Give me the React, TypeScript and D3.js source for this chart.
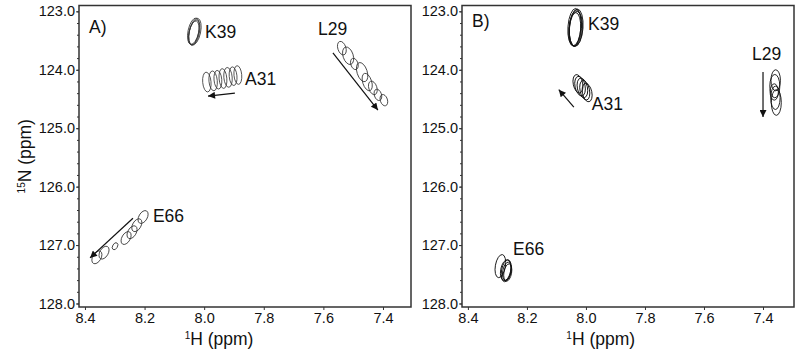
import { useEffect, useRef } from "react";
import * as d3 from "d3";

// tick values (ppm)
const ticksH = [8.4, 8.2, 8.0, 7.8, 7.6, 7.4];
const ticksN = [123, 124, 125, 126, 127, 128];
const minorN = d3.range(123, 128.01, 0.2);

// peaks: residue, 1H shift, 15N shift, half-widths in ppm
const peaksA = [
  { res: "K39", h: 8.036, n: 123.34, wh: 0.018, wn: 0.23 },
  { res: "K39", h: 8.033, n: 123.36, wh: 0.017, wn: 0.22 },
  { res: "K39", h: 8.031, n: 123.35, wh: 0.019, wn: 0.235 },
  { res: "K39", h: 8.035, n: 123.37, wh: 0.016, wn: 0.21 },
  { res: "A31", h: 7.991, n: 124.21, wh: 0.014, wn: 0.17 },
  { res: "A31", h: 7.970, n: 124.19, wh: 0.014, wn: 0.17 },
  { res: "A31", h: 7.954, n: 124.17, wh: 0.013, wn: 0.16 },
  { res: "A31", h: 7.937, n: 124.15, wh: 0.013, wn: 0.17 },
  { res: "A31", h: 7.920, n: 124.13, wh: 0.014, wn: 0.17 },
  { res: "A31", h: 7.903, n: 124.11, wh: 0.013, wn: 0.16 },
  { res: "A31", h: 7.887, n: 124.09, wh: 0.013, wn: 0.16 },
  { res: "L29", h: 7.538, n: 123.63, wh: 0.0135, wn: 0.12 },
  { res: "L29", h: 7.517, n: 123.76, wh: 0.017, wn: 0.155 },
  { res: "L29", h: 7.496, n: 123.90, wh: 0.012, wn: 0.10 },
  { res: "L29", h: 7.470, n: 124.04, wh: 0.017, wn: 0.17 },
  { res: "L29", h: 7.453, n: 124.21, wh: 0.015, wn: 0.155 },
  { res: "L29", h: 7.434, n: 124.31, wh: 0.0135, wn: 0.12 },
  { res: "L29", h: 7.417, n: 124.43, wh: 0.012, wn: 0.10 },
  { res: "L29", h: 7.397, n: 124.52, wh: 0.012, wn: 0.10 },
  { res: "E66", h: 8.360, n: 127.21, wh: 0.014, wn: 0.12 },
  { res: "E66", h: 8.336, n: 127.13, wh: 0.014, wn: 0.12 },
  { res: "E66", h: 8.299, n: 127.02, wh: 0.008, wn: 0.065 },
  { res: "E66", h: 8.262, n: 126.88, wh: 0.014, wn: 0.12 },
  { res: "E66", h: 8.242, n: 126.78, wh: 0.014, wn: 0.12 },
  { res: "E66", h: 8.226, n: 126.66, wh: 0.014, wn: 0.12 },
  { res: "E66", h: 8.205, n: 126.52, wh: 0.014, wn: 0.12 },
];

const peaksB = [
  { res: "K39", h: 8.039, n: 123.27, wh: 0.022, wn: 0.32 },
  { res: "K39", h: 8.036, n: 123.29, wh: 0.021, wn: 0.31 },
  { res: "K39", h: 8.034, n: 123.30, wh: 0.022, wn: 0.30 },
  { res: "K39", h: 8.038, n: 123.31, wh: 0.020, wn: 0.29 },
  { res: "K39", h: 8.033, n: 123.28, wh: 0.023, wn: 0.32 },
  { res: "A31", h: 8.027, n: 124.24, wh: 0.016, wn: 0.16 },
  { res: "A31", h: 8.020, n: 124.28, wh: 0.017, wn: 0.17 },
  { res: "A31", h: 8.012, n: 124.31, wh: 0.017, wn: 0.17 },
  { res: "A31", h: 8.004, n: 124.35, wh: 0.016, wn: 0.17 },
  { res: "A31", h: 7.996, n: 124.39, wh: 0.016, wn: 0.16 },
  { res: "L29", h: 7.357, n: 124.18, wh: 0.016, wn: 0.18 },
  { res: "L29", h: 7.360, n: 124.28, wh: 0.017, wn: 0.20 },
  { res: "L29", h: 7.362, n: 124.38, wh: 0.014, wn: 0.14 },
  { res: "L29", h: 7.358, n: 124.48, wh: 0.016, wn: 0.20 },
  { res: "L29", h: 7.355, n: 124.56, wh: 0.017, wn: 0.22 },
  { res: "E66", h: 8.290, n: 127.36, wh: 0.017, wn: 0.20 },
  { res: "E66", h: 8.272, n: 127.43, wh: 0.017, wn: 0.18 },
  { res: "E66", h: 8.268, n: 127.45, wh: 0.014, wn: 0.16 },
  { res: "E66", h: 8.265, n: 127.47, wh: 0.013, wn: 0.15 },
  { res: "E66", h: 8.270, n: 127.44, wh: 0.016, wn: 0.19 },
];

// arrows: [from, to] in ppm
const arrowsA = [
  { res: "A31", h0: 7.897, n0: 124.40, h1: 7.987, n1: 124.45 },
  { res: "L29", h0: 7.568, n0: 123.71, h1: 7.417, n1: 124.69 },
  { res: "E66", h0: 8.239, n0: 126.54, h1: 8.383, n1: 127.22 },
];
const arrowsB = [
  { res: "A31", h0: 8.041, n0: 124.64, h1: 8.092, n1: 124.34 },
  { res: "L29", h0: 7.40, n0: 124.04, h1: 7.40, n1: 124.81 },
];

// residue labels (anchor in ppm)
const labelsA = [
  { res: "K39", h: 7.997, n: 123.46 },
  { res: "A31", h: 7.863, n: 124.26 },
  { res: "L29", h: 7.618, n: 123.41 },
  { res: "E66", h: 8.172, n: 126.61 },
];
const labelsB = [
  { res: "K39", h: 7.993, n: 123.32 },
  { res: "A31", h: 7.980, n: 124.69 },
  { res: "L29", h: 7.437, n: 123.83 },
  { res: "E66", h: 8.247, n: 127.17 },
];

const tilt: Record<string, number> = { K39: 12, A31: -5, L29: -18, E66: 30 };
const tiltB: Record<string, number> = { K39: 4, A31: -12, L29: 0, E66: 10 };

const FONT = "'Liberation Sans', Arial, Helvetica, sans-serif";

export default function App() {
  const ref = useRef<SVGSVGElement>(null);

  useEffect(() => {
    const svg = d3.select(ref.current);
    svg.selectAll("*").remove();

    svg
      .append("defs")
      .append("marker")
      .attr("id", "head")
      .attr("viewBox", "0 0 10 10")
      .attr("refX", 10)
      .attr("refY", 5)
      .attr("markerWidth", 9)
      .attr("markerHeight", 7)
      .attr("markerUnits", "userSpaceOnUse")
      .attr("orient", "auto")
      .append("path")
      .attr("d", "M0,0L10,5L0,10z")
      .attr("fill", "#111");

    const y = d3.scaleLinear().domain([122.9, 128.06]).range([5.5, 307]);

    const panels = [
      { name: "A)", x0: 79, x1: 411, dom: [8.42, 7.306], peaks: peaksA, arrows: arrowsA, labels: labelsA, tilts: tilt, tag: 33, stroke: "#333", sw: 0.8 },
      { name: "B)", x0: 462, x1: 794, dom: [8.42, 7.295], peaks: peaksB, arrows: arrowsB, labels: labelsB, tilts: tiltB, tag: 27, stroke: "#111", sw: 0.9 },
    ];

    panels.forEach((p) => {
      const x = d3.scaleLinear().domain(p.dom).range([p.x0, p.x1]);
      const g = svg.append("g");

      // axes
      const ax = g
        .append("g")
        .attr("transform", `translate(0,${y.range()[1]})`)
        .call(d3.axisBottom(x).tickValues(ticksH).tickFormat(d3.format(".1f")).tickSize(3).tickSizeOuter(0).tickPadding(3));
      const ay = g
        .append("g")
        .attr("transform", `translate(${p.x0},0)`)
        .call(d3.axisLeft(y).tickValues(ticksN).tickFormat(d3.format(".1f")).tickSize(3).tickSizeOuter(0).tickPadding(1));
      g.append("g")
        .attr("transform", `translate(${p.x0},0)`)
        .call(d3.axisLeft(y).tickValues(minorN).tickFormat(() => "").tickSize(2).tickSizeOuter(0))
        .call((s) => s.select(".domain").remove());
      [ax, ay].forEach((a) => {
        a.select(".domain").remove();
        a.selectAll("text").attr("font-size", 14.5).attr("font-family", FONT).attr("fill", "#111");
      });
      g.selectAll(".tick line").attr("stroke", "#333");

      // frame
      g.append("rect")
        .attr("x", p.x0)
        .attr("y", y.range()[0])
        .attr("width", p.x1 - p.x0)
        .attr("height", y.range()[1] - y.range()[0])
        .attr("fill", "none")
        .attr("stroke", "#333")
        .attr("stroke-width", 1.5);

      // peaks
      g.selectAll("ellipse.pk")
        .data(p.peaks)
        .join("ellipse")
        .attr("class", "pk")
        .attr("cx", 0)
        .attr("cy", 0)
        .attr("rx", (d) => Math.abs(x(d.h + d.wh) - x(d.h)))
        .attr("ry", (d) => Math.abs(y(d.n + d.wn) - y(d.n)))
        .attr("transform", (d) => `translate(${x(d.h)},${y(d.n)}) rotate(${p.tilts[d.res]})`)
        .attr("fill", "none")
        .attr("stroke", p.stroke)
        .attr("stroke-width", p.sw);

      // arrows
      g.selectAll("line.arr")
        .data(p.arrows)
        .join("line")
        .attr("class", "arr")
        .attr("x1", (d) => x(d.h0))
        .attr("y1", (d) => y(d.n0))
        .attr("x2", (d) => x(d.h1))
        .attr("y2", (d) => y(d.n1))
        .attr("stroke", "#111")
        .attr("stroke-width", 1.2)
        .attr("marker-end", "url(#head)");

      // residue labels
      g.selectAll("text.res")
        .data(p.labels)
        .join("text")
        .attr("class", "res")
        .attr("x", (d) => x(d.h))
        .attr("y", (d) => y(d.n))
        .attr("font-size", 17.5)
        .attr("font-family", FONT)
        .attr("fill", "#111")
        .text((d) => d.res);

      g.append("text")
        .attr("x", p.x0 + 10)
        .attr("y", p.tag)
        .attr("font-size", 17.5)
        .attr("font-family", FONT)
        .attr("fill", "#111")
        .text(p.name);

      // x title
      const xt = g
        .append("text")
        .attr("x", x(7.95))
        .attr("y", 345)
        .attr("text-anchor", "middle")
        .attr("font-size", 17.5)
        .attr("font-family", FONT)
        .attr("fill", "#111");
      xt.append("tspan").attr("font-size", 10).attr("dy", -6).text("1");
      xt.append("tspan").attr("dy", 6).text("H (ppm)");
    });

    // y title
    const yt = svg
      .append("text")
      .attr("transform", `translate(31,${(y.range()[0] + y.range()[1]) / 2}) rotate(-90)`)
      .attr("text-anchor", "middle")
      .attr("font-size", 17.5)
      .attr("font-family", FONT)
      .attr("fill", "#111");
    yt.append("tspan").attr("font-size", 10).attr("dy", -6).text("15");
    yt.append("tspan").attr("dy", 6).text("N (ppm)");
  }, []);

  return (
    <svg
      ref={ref}
      width={800}
      height={356}
      style={{ position: "absolute", left: 0, top: 0, background: "#fff" }}
    />
  );
}
